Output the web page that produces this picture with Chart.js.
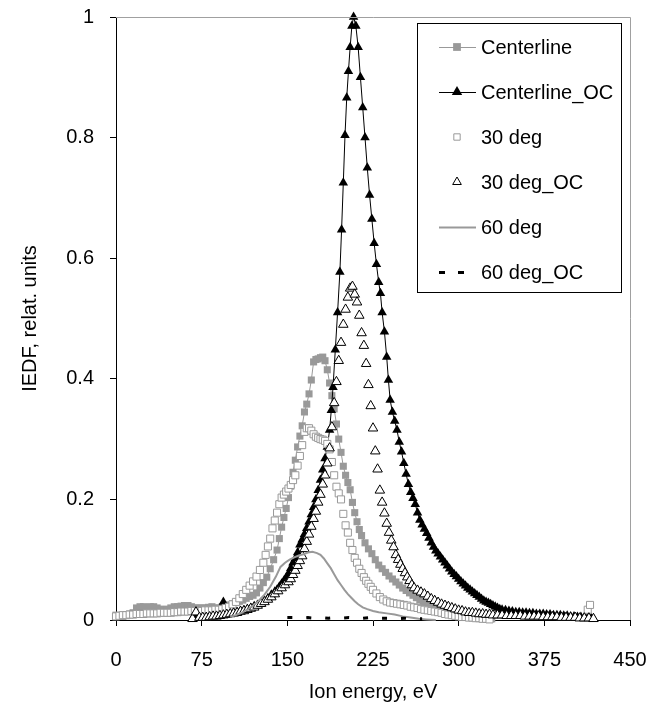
<!DOCTYPE html>
<html>
<head>
<meta charset="utf-8">
<script src="https://cdn.jsdelivr.net/npm/chart.js@4.4.1/dist/chart.umd.min.js"></script>
<style>
html,body{margin:0;padding:0;background:#fff;}
#wrap{width:657px;height:720px;}
</style>
</head>
<body>
<div id="wrap"><canvas id="c" width="657" height="720"></canvas></div>
<script>
// ---- data: [energy eV, IEDF] ----
const seriesNames = ["Centerline", "Centerline_OC", "30 deg", "30 deg_OC", "60 deg", "60 deg_OC"];
const xTicks = [0, 75, 150, 225, 300, 375, 450];
const yTicks = [0, 0.2, 0.4, 0.6, 0.8, 1];

const centerline = [[0,0.008],[3,0.007],[6,0.006],[9,0.008],[12,0.010],[15,0.012],[18,0.020],[21,0.022],[24,0.022],[27,0.021],[30,0.022],[33,0.022],[36,0.020],[39,0.018],[42,0.016],[45,0.018],[48,0.020],[51,0.022],[54,0.022],[57,0.023],[60,0.024],[63,0.024],[66,0.022],[69,0.020],[72,0.020],[75,0.020],[78,0.020],[81,0.021],[84,0.022],[87,0.020],[90,0.020],[93,0.022],[96,0.024],[99,0.025],[102,0.027],[105,0.029],[108,0.031],[111,0.033],[114,0.036],[117,0.039],[120,0.041],[123,0.045],[126,0.053],[129,0.062],[132,0.071],[135,0.085],[138,0.100],[141,0.116],[143,0.135],[145,0.154],[147,0.170],[149,0.185],[151,0.203],[153,0.222],[155,0.245],[157,0.265],[159,0.287],[161,0.305],[163,0.322],[165,0.345],[167,0.358],[169,0.375],[171,0.398],[173,0.428],[175,0.432],[177,0.433],[179,0.435],[181,0.436],[183,0.430],[185,0.415],[187,0.393],[189,0.372],[191,0.350],[193,0.325],[195,0.300],[197,0.278],[199,0.255],[201,0.240],[203,0.228],[205,0.216],[207,0.195],[209,0.178],[211,0.163],[213,0.150],[215,0.140],[218,0.128],[221,0.118],[224,0.110],[227,0.100],[230,0.091],[233,0.085],[236,0.079],[239,0.073],[242,0.068],[245,0.063],[248,0.058],[251,0.053],[254,0.049],[257,0.045],[260,0.041],[263,0.037],[266,0.033],[269,0.030],[272,0.027],[275,0.024],[278,0.022],[281,0.019],[284,0.016],[287,0.014],[290,0.012],[293,0.010],[296,0.009],[299,0.008],[302,0.007],[305,0.006],[308,0.005],[311,0.005],[314,0.004],[317,0.004],[320,0.003],[323,0.003],[326,0.002],[329,0.002]];

const centerlineOC = [[67,0.003],[70,0.004],[73,0.005],[76,0.006],[79,0.005],[82,0.007],[85,0.006],[88,0.008],[91,0.008],[94,0.030],[97,0.009],[100,0.010],[103,0.012],[106,0.013],[109,0.015],[112,0.016],[115,0.018],[118,0.020],[121,0.023],[124,0.025],[127,0.028],[130,0.032],[133,0.036],[136,0.042],[139,0.047],[141,0.050],[143,0.055],[145,0.060],[147,0.065],[149,0.070],[151,0.077],[153,0.086],[155,0.095],[157,0.102],[159,0.112],[161,0.125],[163,0.133],[165,0.142],[167,0.152],[169,0.163],[171,0.175],[173,0.187],[175,0.200],[177,0.215],[179,0.232],[181,0.249],[183,0.268],[185,0.287],[187,0.315],[188.5,0.348],[190,0.386],[192,0.448],[194,0.510],[196,0.577],[197.5,0.647],[199,0.725],[200.5,0.804],[202,0.866],[203.5,0.910],[205,0.950],[206.5,0.985],[208,1.000],[210,0.985],[212,0.950],[214,0.900],[216,0.850],[218,0.800],[220,0.750],[222,0.705],[224,0.665],[226,0.625],[228,0.590],[230,0.560],[231.5,0.542],[233,0.510],[235,0.478],[237,0.436],[238.5,0.398],[240,0.365],[242,0.345],[244,0.330],[246,0.315],[248,0.295],[250,0.279],[252,0.260],[254,0.242],[256,0.225],[258,0.212],[260,0.202],[262,0.192],[264,0.178],[266,0.166],[268,0.158],[270,0.151],[272,0.144],[274,0.136],[276,0.128],[278,0.121],[280,0.115],[282,0.110],[284,0.105],[286,0.100],[288,0.095],[290,0.090],[292,0.085],[294,0.080],[296,0.076],[298,0.072],[300,0.068],[302,0.064],[304,0.060],[306,0.057],[308,0.053],[310,0.050],[312,0.047],[314,0.044],[316,0.041],[318,0.038],[320,0.035],[322,0.032],[324,0.030],[326,0.028],[328,0.026],[330,0.024],[332,0.022],[334,0.020],[336,0.018],[338,0.017],[341,0.016],[344,0.015],[347,0.014],[350,0.013],[353,0.013],[356,0.012],[359,0.012],[362,0.011],[365,0.011],[368,0.010],[371,0.010],[374,0.010],[377,0.009],[380,0.009],[383,0.008],[386,0.008],[389,0.008],[392,0.007],[395,0.007],[398,0.006],[401,0.006],[404,0.005],[407,0.005],[410,0.004],[413,0.004],[416,0.003],[418,0.002]];

const deg30 = [[0,0.006],[3,0.007],[6,0.008],[9,0.008],[12,0.009],[15,0.009],[18,0.010],[21,0.010],[24,0.010],[27,0.011],[30,0.011],[33,0.011],[36,0.011],[39,0.012],[42,0.012],[45,0.012],[48,0.012],[51,0.013],[54,0.013],[57,0.014],[60,0.014],[63,0.014],[66,0.015],[69,0.015],[72,0.015],[75,0.015],[78,0.016],[81,0.016],[84,0.016],[87,0.017],[90,0.017],[93,0.018],[96,0.020],[99,0.022],[102,0.026],[105,0.030],[108,0.036],[111,0.043],[114,0.050],[117,0.057],[120,0.064],[123,0.072],[126,0.083],[129,0.095],[131,0.108],[133,0.122],[135,0.135],[137,0.152],[139,0.165],[141,0.178],[143,0.192],[145,0.203],[147,0.208],[149,0.213],[151,0.218],[153,0.224],[155,0.232],[157,0.240],[159,0.256],[161,0.272],[163,0.290],[165,0.312],[167,0.318],[169,0.318],[171,0.314],[173,0.308],[175,0.304],[177,0.302],[179,0.300],[181,0.299],[183,0.297],[185,0.292],[187,0.283],[189,0.262],[191,0.240],[193,0.221],[195,0.210],[197,0.200],[199,0.176],[201,0.157],[203,0.145],[205,0.128],[207,0.116],[209,0.103],[211,0.095],[213,0.085],[215,0.078],[217,0.071],[219,0.065],[221,0.060],[223,0.055],[225,0.050],[228,0.044],[231,0.038],[234,0.034],[237,0.031],[240,0.029],[243,0.028],[246,0.027],[249,0.026],[252,0.025],[255,0.024],[258,0.022],[261,0.021],[264,0.020],[267,0.018],[270,0.017],[273,0.016],[276,0.015],[279,0.014],[282,0.013],[285,0.012],[288,0.010],[291,0.009],[294,0.008],[297,0.007],[300,0.006],[303,0.005],[306,0.005],[309,0.004],[312,0.004],[315,0.003],[318,0.003],[321,0.002],[324,0.002],[327,0.001],[413,0.017],[415,0.025]];

const deg30OC = [[67,0.002],[70,0.013],[73,0.004],[76,0.004],[79,0.004],[82,0.005],[85,0.006],[88,0.006],[91,0.007],[94,0.008],[97,0.009],[100,0.010],[103,0.011],[106,0.012],[109,0.014],[112,0.015],[115,0.017],[118,0.019],[121,0.021],[124,0.024],[127,0.027],[130,0.030],[133,0.034],[136,0.038],[139,0.043],[142,0.048],[145,0.053],[148,0.058],[151,0.063],[153,0.068],[155,0.075],[157,0.082],[159,0.090],[161,0.098],[163,0.106],[165,0.118],[167,0.130],[169,0.142],[171,0.155],[173,0.168],[175,0.180],[177,0.195],[179,0.208],[181,0.225],[183,0.240],[185,0.260],[187,0.285],[189,0.320],[191,0.360],[193,0.395],[195,0.430],[197,0.460],[199,0.490],[201,0.515],[203,0.535],[205,0.550],[207,0.553],[209,0.540],[211,0.527],[213,0.505],[215,0.476],[217,0.455],[219,0.425],[221,0.390],[223,0.355],[225,0.318],[227,0.280],[229,0.250],[231,0.215],[233,0.195],[235,0.177],[237,0.160],[239,0.145],[241,0.132],[243,0.121],[245,0.108],[247,0.100],[249,0.092],[251,0.085],[253,0.078],[255,0.071],[257,0.065],[259,0.058],[261,0.053],[264,0.049],[267,0.046],[270,0.043],[273,0.039],[276,0.035],[279,0.032],[282,0.029],[285,0.026],[288,0.024],[291,0.022],[294,0.020],[297,0.018],[300,0.016],[303,0.015],[306,0.013],[309,0.012],[312,0.012],[315,0.011],[318,0.010],[321,0.010],[324,0.009],[327,0.009],[330,0.008],[334,0.008],[338,0.008],[342,0.007],[346,0.007],[350,0.007],[354,0.007],[358,0.006],[362,0.006],[366,0.006],[370,0.006],[374,0.005],[378,0.005],[382,0.005],[386,0.005],[390,0.004],[394,0.004],[398,0.004],[402,0.004],[406,0.003],[410,0.003],[414,0.003],[418,0.002]];

const deg60 = [[100,0.005],[105,0.008],[110,0.012],[115,0.017],[120,0.024],[125,0.032],[130,0.042],[135,0.055],[140,0.072],[144,0.088],[148,0.095],[152,0.100],[156,0.104],[160,0.107],[164,0.109],[168,0.112],[172,0.113],[176,0.111],[179,0.108],[182,0.102],[185,0.094],[188,0.086],[191,0.076],[194,0.066],[197,0.058],[200,0.050],[203,0.043],[206,0.037],[209,0.031],[212,0.026],[216,0.021],[220,0.018],[225,0.015],[230,0.013],[237,0.011],[244,0.009],[251,0.006],[258,0.004],[265,0.002],[272,0.001],[280,0.000]];

const deg60OC = [[150,0.004],[156,0.004],[162,0.003],[168,0.004],[174,0.003],[180,0.004],[186,0.003],[192,0.004],[198,0.003],[204,0.004],[210,0.003],[216,0.003],[222,0.004],[228,0.003],[234,0.003],[240,0.003],[246,0.002],[252,0.003],[258,0.002],[264,0.002],[268,0.002]];

// ---- styling ----
const FONT = "'Liberation Sans', Arial, sans-serif";
const GRAY = '#999999';
const toXY = arr => arr.map(p => ({x: p[0], y: p[1]}));

const datasets = [
  {label: seriesNames[0], data: toXY(centerline), showLine: true, borderColor: GRAY, borderWidth: 1,
   pointStyle: 'rect', pointRadius: 5, pointBackgroundColor: GRAY, pointBorderColor: GRAY, pointBorderWidth: 0, order: 6, legendRadius: 5.5},
  {label: seriesNames[1], data: toXY(centerlineOC), showLine: true, borderColor: '#000', borderWidth: 1,
   pointStyle: 'triangle', pointRadius: 5.5, pointBackgroundColor: '#000', pointBorderColor: '#000', pointBorderWidth: 0, order: 5, legendRadius: 6},
  {label: seriesNames[2], data: toXY(deg30), showLine: false, borderColor: GRAY,
   pointStyle: 'rect', pointRadius: 5, pointBackgroundColor: '#fff', pointBorderColor: GRAY, pointBorderWidth: 1, order: 4, legendRadius: 4.5},
  {label: seriesNames[3], data: toXY(deg30OC), showLine: false, borderColor: '#000',
   pointStyle: 'triangle', pointRadius: 5.5, pointBackgroundColor: '#fff', pointBorderColor: '#000', pointBorderWidth: 1, order: 3, legendRadius: 5},
  {label: seriesNames[4], data: toXY(deg60), showLine: true, borderColor: GRAY, borderWidth: 2,
   pointRadius: 0, order: 2},
  {label: seriesNames[5], data: toXY(deg60OC), showLine: true, borderColor: '#000', borderWidth: 3,
   borderDash: [5, 14], pointRadius: 0, order: 1}
];
datasets.forEach(d => { d.clip = false; d.tension = 0; d.pointHoverRadius = d.pointRadius; });

const framePlugin = {
  id: 'frame',
  afterDraw(chart) {
    const {ctx, chartArea: a} = chart;
    ctx.save();
    ctx.strokeStyle = '#a0a0a0';
    ctx.lineWidth = 1;
    ctx.beginPath();
    ctx.moveTo(a.left, a.top + 0.5);
    ctx.lineTo(a.right + 0.5, a.top + 0.5);
    ctx.lineTo(a.right + 0.5, a.bottom);
    ctx.stroke();
    ctx.restore();
  }
};

const legendPlugin = {
  id: 'boxLegend',
  afterDraw(chart) {
    const ctx = chart.ctx;
    const box = {x: 417, y: 23, w: 204, h: 269};
    const rows = [47, 92, 137, 182, 227, 272];
    const lx0 = 439, lx1 = 476, mx = 457, tx = 481;
    ctx.save();
    ctx.fillStyle = '#fff';
    ctx.fillRect(box.x, box.y, box.w, box.h);
    ctx.strokeStyle = '#000';
    ctx.lineWidth = 1;
    ctx.strokeRect(box.x + 0.5, box.y + 0.5, box.w, box.h);
    chart.data.datasets.forEach((ds, i) => {
      const y = rows[i];
      if (ds.showLine) {
        ctx.save();
        ctx.strokeStyle = ds.borderColor;
        ctx.lineWidth = ds.borderWidth;
        if (ds.borderDash) ctx.setLineDash([6, 13]);
        ctx.beginPath();
        ctx.moveTo(lx0, y + 0.5);
        ctx.lineTo(lx1, y + 0.5);
        ctx.stroke();
        ctx.restore();
      }
      if (ds.pointRadius > 0) {
        ctx.save();
        ctx.fillStyle = ds.pointBackgroundColor;
        ctx.strokeStyle = ds.pointBorderColor;
        ctx.lineWidth = ds.pointBorderWidth;
        Chart.helpers.drawPoint(ctx, {pointStyle: ds.pointStyle, radius: ds.legendRadius, borderWidth: ds.pointBorderWidth, rotation: 0}, mx, y);
        ctx.restore();
      }
      ctx.fillStyle = '#000';
      ctx.font = '20px ' + FONT;
      ctx.textBaseline = 'middle';
      ctx.textAlign = 'left';
      ctx.fillText(ds.label, tx, y + 1);
    });
    ctx.restore();
  }
};

const fmt = v => String(Math.round(v * 10) / 10);
const zeroPad = s => { s.paddingLeft = 0; s.paddingRight = 0; s.paddingTop = 0; s.paddingBottom = 0; };

new Chart(document.getElementById('c'), {
  type: 'scatter',
  data: {datasets},
  options: {
    responsive: false,
    animation: false,
    devicePixelRatio: 1,
    layout: {padding: {left: 0, right: 27, top: 17, bottom: 0}},
    plugins: {legend: {display: false}, tooltip: {enabled: false}},
    scales: {
      x: {
        type: 'linear', min: 0, max: 450,
        afterBuildTicks: s => { s.ticks = xTicks.map(v => ({value: v})); },
        afterFit: s => { s.height = 100; zeroPad(s); },
        grid: {drawOnChartArea: false, drawTicks: true, tickLength: 6, color: '#000', tickColor: '#000'},
        border: {display: true, color: '#000', width: 1},
        ticks: {color: '#000', font: {family: FONT, size: 20}, padding: 22, maxRotation: 0, callback: v => String(v)},
        title: {display: true, text: 'Ion energy, eV', color: '#000', font: {family: FONT, size: 20}, padding: {top: 0, bottom: 16}}
      },
      y: {
        type: 'linear', min: 0, max: 1,
        afterBuildTicks: s => { s.ticks = yTicks.map(v => ({value: v})); },
        afterFit: s => { s.width = 116; zeroPad(s); },
        grid: {drawOnChartArea: false, drawTicks: true, tickLength: 6, color: '#000', tickColor: '#000'},
        border: {display: true, color: '#000', width: 1},
        ticks: {color: '#000', font: {family: FONT, size: 20}, padding: 16, callback: v => fmt(v)},
        title: {display: true, text: 'IEDF, relat. units', color: '#000', font: {family: FONT, size: 20}, padding: {top: 18, bottom: 0}}
      }
    }
  },
  plugins: [framePlugin, legendPlugin]
});
</script>
</body>
</html>
